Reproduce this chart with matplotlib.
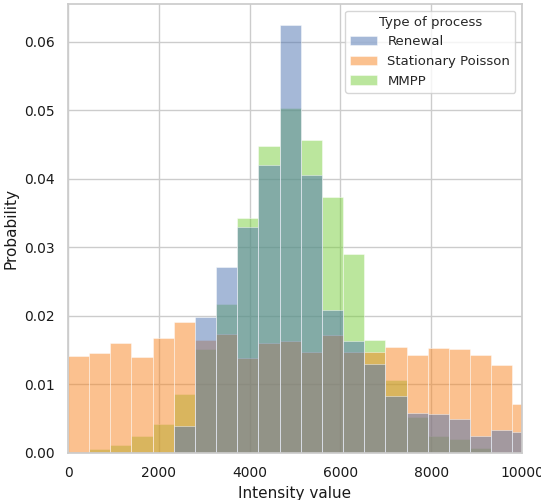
import numpy as np
import seaborn as sns
from matplotlib import pyplot as plt

# probability per bin, bins of equal width starting at 0
bin_width = 466
renewal = [0, 0, 0, 0, 0, 0.0040, 0.0199, 0.0271, 0.0330, 0.0420, 0.0624,
           0.0406, 0.0209, 0.0163, 0.0130, 0.0083, 0.0059, 0.0057, 0.0049,
           0.0025, 0.0033, 0.0031]
stationary_poisson = [0.0141, 0.0146, 0.0160, 0.0140, 0.0168, 0.0191, 0.0165,
                      0.0173, 0.0138, 0.0160, 0.0164, 0.0148, 0.0172, 0.0147,
                      0.0147, 0.0155, 0.0143, 0.0153, 0.0152, 0.0143, 0.0129,
                      0.0072]
mmpp = [0, 0.0006, 0.0012, 0.0025, 0.0043, 0.0086, 0.0152, 0.0218, 0.0343,
        0.0448, 0.0503, 0.0457, 0.0374, 0.0290, 0.0165, 0.0107, 0.0053, 0.0025,
        0.0021, 0.0007, 0, 0]
process_names = ["Renewal", "Stationary Poisson", "MMPP"]
process_colors = ["#4c72b0", "#f88520", "#78cf3c"]

sns.set_theme(style="whitegrid")
fig = plt.figure(figsize=(5.41, 5.0), dpi=100)
ax = fig.add_axes([0.1257, 0.094, 0.8392, 0.898])

edges = bin_width * np.arange(len(renewal))
series = [renewal, stationary_poisson, mmpp]
# last process drawn first so the first ends up on top
handles = [None] * 3
for i in reversed(range(3)):
    bars = ax.bar(edges, series[i], width=bin_width, align="edge",
                  color=process_colors[i], alpha=0.5, edgecolor="white",
                  linewidth=0.6, label=process_names[i])
    handles[i] = bars

ax.set_xlim(0, 10000)
ax.set_ylim(0, max(max(s) for s in series) * 1.05)
ax.set_xlabel("Intensity value", fontsize=11, color="0.1")
ax.set_ylabel("Probability", fontsize=11, color="0.1")
ax.tick_params(labelsize=10, colors="0.1")
ax.legend(handles, process_names, title="Type of process", loc="upper right",
          fontsize=9.5, title_fontsize=9.5)

fig.savefig("out.png", dpi=100)
